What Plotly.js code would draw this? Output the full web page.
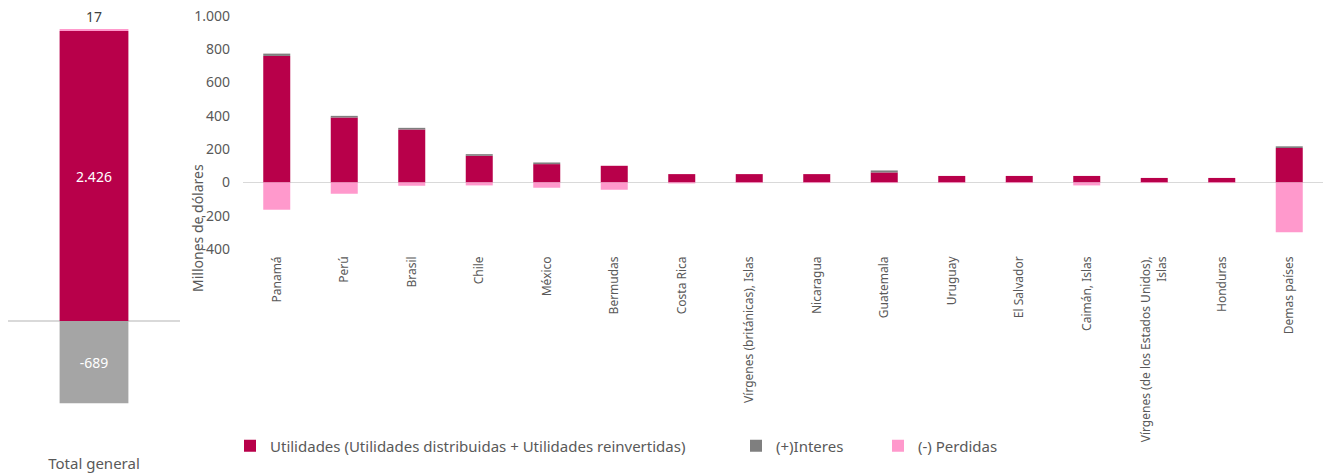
<!DOCTYPE html>
<html>
<head>
<meta charset="utf-8">
<script src="https://cdn.plot.ly/plotly-3.0.1.min.js"></script>
<style>html,body{margin:0;padding:0;background:#fff;}#chart{width:1323px;height:474px;}</style>
</head>
<body>
<div id="chart"></div>
<script>
// ---- Data ----
const categories = ['Panamá','Perú','Brasil','Chile','México','Bermudas','Costa Rica','Vírgenes (británicas), Islas','Nicaragua','Guatemala','Uruguay','El Salvador','Caimán, Islas','Vírgenes (de los Estados Unidos),<br>Islas','Honduras','Demas países'];
const utilidades = [760, 390, 318, 160, 110, 100, 50, 50, 50, 60, 39, 39, 39, 27, 27, 207];
const interes    = [14, 10, 10, 10, 10, 0, 0, 0, 0, 12, 0, 0, 0, 0, 0, 10];
const perdidas   = [-164, -68, -20, -18, -32, -44, -6, -4, -4, -4, -4, -4, -18, -4, -4, -299];

const totalCategory = ['Total general'];
const totalUtilidades = [2426];
const totalInteres = [17];
const totalPerdidas = [-689];

const yTickVals = [-400, -200, 0, 200, 400, 600, 800, 1000];
const yTickText = ['-400', '-200', '0', '200', '400', '600', '800', '1.000'];

const seriesNames = ['Utilidades (Utilidades distribuidas + Utilidades reinvertidas)', '(+)Interes', '(-) Perdidas'];
const axisTitle = 'Millones de dólares';

// ---- Style ----
const C_UTIL = '#B8004A', C_INT = '#7F7F7F', C_PERD = '#FF99CC', C_GRAY_TOTAL = '#A5A5A5';
const TXT = '#595959';
const FONT = 'Noto Sans, Open Sans, sans-serif';
const W = 1323, H = 474;

function fmt(v) {
  const s = Math.abs(Math.round(v)).toString().replace(/\B(?=(\d{3})+(?!\d))/g, '.');
  return (v < 0 ? '-' : '') + s;
}

const traces = [
  // Right panel
  {type:'bar', x:categories, y:utilidades, name:seriesNames[0], marker:{color:C_UTIL}, xaxis:'x2', yaxis:'y2', legend:'legend', hoverinfo:'x+y'},
  {type:'bar', x:categories, y:interes, name:seriesNames[1], marker:{color:C_INT}, xaxis:'x2', yaxis:'y2', legend:'legend2', hoverinfo:'x+y'},
  {type:'bar', x:categories, y:perdidas, name:seriesNames[2], marker:{color:C_PERD}, xaxis:'x2', yaxis:'y2', legend:'legend3', hoverinfo:'x+y'},
  // Left panel (totals)
  {type:'bar', x:totalCategory, y:totalUtilidades, text:totalUtilidades.map(fmt), textposition:'inside', insidetextanchor:'middle', textangle:0,
   textfont:{color:'#FFFFFF', size:14, family:FONT}, marker:{color:C_UTIL}, xaxis:'x', yaxis:'y', showlegend:false, hoverinfo:'x+y'},
  {type:'bar', x:totalCategory, y:totalPerdidas, text:totalPerdidas.map(fmt), textposition:'inside', insidetextanchor:'middle', textangle:0,
   textfont:{color:'#FFFFFF', size:14, family:FONT}, marker:{color:C_GRAY_TOTAL}, xaxis:'x', yaxis:'y', showlegend:false, hoverinfo:'x+y'},
  {type:'bar', x:totalCategory, y:totalInteres, text:totalInteres.map(fmt), textposition:'outside', textangle:0, cliponaxis:false,
   textfont:{color:'#404040', size:14, family:FONT}, marker:{color:C_PERD}, xaxis:'x', yaxis:'y', showlegend:false, hoverinfo:'x+y'}
];

const legendBase = {orientation:'h', xanchor:'left', yanchor:'middle', y:1 - 446/H, yref:'paper',
  font:{size:15, color:TXT, family:FONT}, bgcolor:'rgba(0,0,0,0)', itemwidth:30, tracegroupgap:0};

const layout = {
  width:W, height:H,
  margin:{l:0, r:0, t:0, b:0},
  paper_bgcolor:'#FFFFFF', plot_bgcolor:'rgba(0,0,0,0)',
  barmode:'relative', bargap:0.6,
  separators:',.',
  font:{family:FONT, color:TXT, size:13},
  xaxis:{domain:[8/W, 180/W], anchor:'y', type:'category', showgrid:false, showline:false, ticks:'', zeroline:false,
    tickfont:{size:15, color:TXT}, ticklabelstandoff:5, fixedrange:true},
  yaxis:{domain:[1 - 448/H, 1], range:[-1063, 2686], anchor:'x', showticklabels:false, showgrid:false, showline:false, ticks:'',
    zeroline:true, zerolinecolor:'#D9D9D9', zerolinewidth:1.5, fixedrange:true},
  xaxis2:{domain:[243/W, 1], anchor:'y2', type:'category', showgrid:false, showline:false, ticks:'', zeroline:false,
    tickangle:-90, tickfont:{size:12, color:TXT}, ticklabelstandoff:4, fixedrange:true},
  yaxis2:{domain:[1 - 249/H, 1 - 16/H], range:[-400, 1000], anchor:'x2', tickvals:yTickVals, ticktext:yTickText,
    showgrid:false, showline:false, ticks:'', tickfont:{size:14, color:TXT}, ticklabelstandoff:12,
    zeroline:true, zerolinecolor:'#D9D9D9', zerolinewidth:1.5, fixedrange:true},
  annotations:[{text:axisTitle, xref:'paper', yref:'paper', x:197/W, y:1 - 228/H, xanchor:'center', yanchor:'middle',
    textangle:-90, showarrow:false, font:{size:14, color:TXT, family:FONT}}],
  legend:Object.assign({}, legendBase, {x:230/W}),
  legend2:Object.assign({}, legendBase, {x:736/W}),
  legend3:Object.assign({}, legendBase, {x:878/W})
};

Plotly.newPlot('chart', traces, layout, {displayModeBar:false, staticPlot:true});
</script>
</body>
</html>
